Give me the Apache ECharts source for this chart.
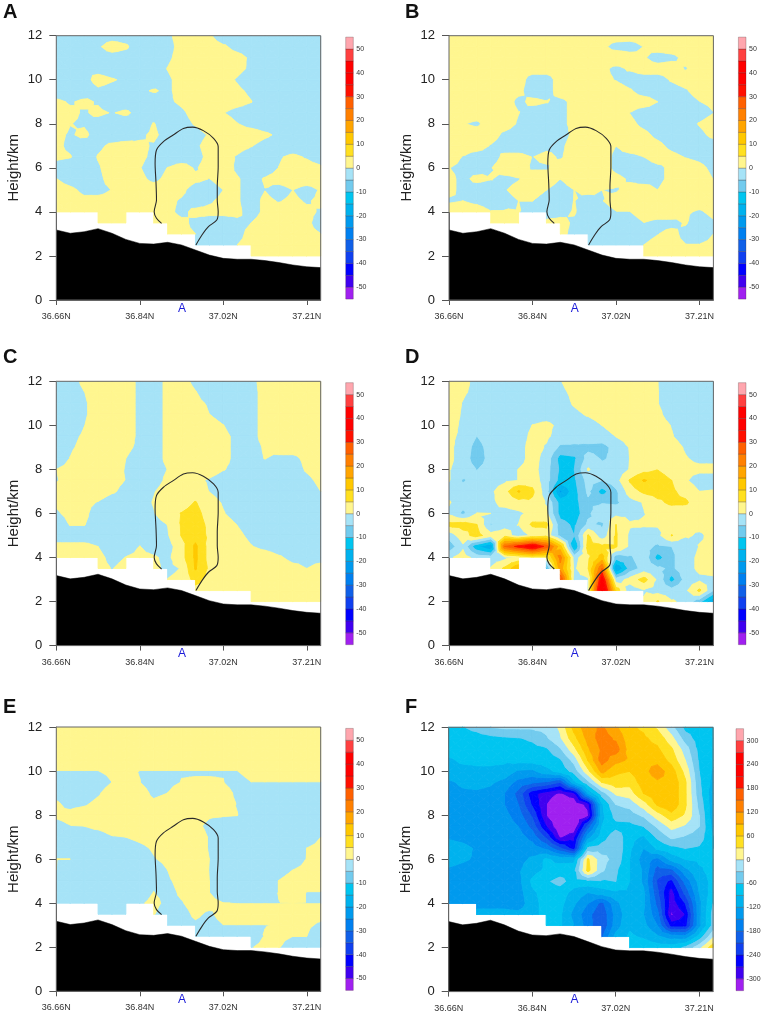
<!DOCTYPE html>
<html>
<head>
<meta charset="utf-8">
<style>html,body{margin:0;padding:0;background:#fff}#chart{width:761px;height:1014px}</style>
<script src="https://cdn.jsdelivr.net/npm/echarts@6/dist/echarts.min.js"></script>
</head>
<body>
<div id="chart"></div>
<script>
const _ = null;

const latitudes = [36.66,36.69,36.72,36.75,36.78,36.81,36.84,36.87,36.90,36.93,36.96,36.99,37.02,37.05,37.08,37.11,37.14,37.17,37.20,37.23];
const heights = [12,11.5,11,10.5,10,9.5,9,8.5,8,7.5,7,6.5,6,5.5,5,4.5,4,3.5,3,2.5,2];
const terrainHeight = [3.18,3.03,3.1,3.24,3.03,2.75,2.57,2.54,2.62,2.5,2.27,2.04,1.89,1.85,1.85,1.79,1.7,1.59,1.51,1.47];

const curveLat = [36.887,36.876,36.871,36.876,36.875,36.873,36.876,36.891,36.912,36.934,36.954,36.977,36.999,37.009,37.009,37.007,37.007,37.009,37.006,36.988,36.974,36.961];
const curveKm = [3.48,3.71,4.01,4.54,5.30,6.20,6.81,7.19,7.49,7.79,7.85,7.69,7.34,6.96,6.05,5.14,4.54,4.01,3.63,3.33,2.95,2.50];

const xTickValues = [36.66,36.84,37.02,37.20];
const xTickLabels = ['36.66N','36.84N','37.02N','37.21N'];

const levelsSmall = [-55,-50,-45,-40,-35,-30,-25,-20,-15,-10,-5,0,5,10,15,20,25,30,35,40,45,50,55];
const labelsSmall = [-50,-40,-30,-20,-10,0,10,20,30,40,50];
const levelsLarge = [-330,-300,-270,-240,-210,-180,-150,-120,-90,-60,-30,0,30,60,90,120,150,180,210,240,270,300,330];
const labelsLarge = [-300,-240,-180,-120,-60,0,60,120,180,240,300];
const bandColors = ['#a020f0','#4000f0','#0000ff','#1040f0','#1060e8','#0080f0','#009aee','#00b2ee','#00c5f0','#72cbee','#a6e3f7',
  '#fff68f','#ffe020','#ffc800','#ffa500','#ff8000','#ff6000','#ff1000','#ff0000','#ff0000','#ff4040','#ffa6ae'];

const panelNames = ['A','B','C','D','E','F'];
const panelLefts = [56.3,449,56.3,449,56.3,448.7];
const panelTops = [35.7,35.7,381.3,381.3,727,727.3];
const letterLefts = [3,405,3,405,3,405];
const letterTops = [12,12,357,357,707,707];
const barLefts = [345.7,738.4,345.7,738.4,345.7,736];

const gridA = [
  [-3,-3,-3,-3,-3,-3,-3,-3,-1,2,3,1,-4,-3,-3,-3,-3,-3,-3,-3],
  [-3,-3,-3,-1,3,1,-4,-3,-2,2,3,3,1,-2,-3,-3,-3,-3,-3,-3],
  [-3,-3,-3,-3,-3,-3,-3,-3,-1,2,3,3,3,2,-1,-3,-3,-3,-3,-3],
  [-3,-3,-0.2,-2,-3,-3,-3,-3,0.2,3,3,3,3,1.5,-1,-3,-3,-3,-3,-3],
  [-3,-3,-2,2,0.5,-1,-3,-3,-1,2,3,3,2,-0.5,-3,-3,-3,-3,-3,-3],
  [-3,-3,-3,-1,-2,-3,-1,0.5,-1,2,3,3,3,1,-1,-3,-3,-3,-3,-3],
  [1,-0.5,1,-0.5,-3,-3,-3,-3,-1,1,3,3,3,2,0.2,-3,-3,-3,-3,-3],
  [2,1,-0.5,1,-0.3,1,-2,-3,-3,-1,2,2,0.2,-2,-3,-3,-3,-3,-3,-3],
  [2,0.1,-0.5,-2,-3,-3,-3,0.3,-3,-2,0.5,3,3,0.2,-2,-3,-3,-3,-3,-3],
  [1,-0.5,1,-2,-3,-3,-1,1,-2,-3,-2,0.5,3,3,3,1,-1,-3,-3,-3],
  [1,-1,-3,-1,1,2,1,-0.5,-3,-3,-1,2,3,2,0.3,-2,-3,-3,-3,-3],
  [1,0.3,-3,0.3,2,2,1,-1,-3,-3,-2,1.5,2,-0.5,-3,-3,-0.5,1,-0.5,-3],
  [-2,-3,-3,-0.5,2,2,0.2,-2,0.1,2,-0.5,2,3,-1,-3,-3,0.1,2,2,1],
  [0.1,-2,-3,-1,1.5,2,1,-1,1,3,1,-0.1,2,0.5,-2,0.5,2,3,3,3],
  [2,1,-1,-1,0.1,2,2,2,2,1,-2,-2,0,0.5,-2,-0.1,-2,0,-2,0.5],
  [2,2,1,1,1,2,2,2,1,-0.5,-2,-0.5,1,0.5,-2,1,-0.3,1,-0.5,1],
  [2,2,2,2,2,2,2,2,1,-1,1,1,1,1,-2,1,2,2,1,-0.5],
  [_,_,_,2,2,2,_,1,2,1,-1,-2,-2,-1,0,2,3,2,1,-2],
  [_,_,_,_,_,_,_,_,2,1,0,-2,-2,-1,1,2,2,2,1,0],
  [_,_,_,_,_,_,_,_,_,_,-1,-2,-2,0,1,2,2,2,2,1],
  [_,_,_,_,_,_,_,_,_,_,_,_,_,_,2,2,2,2,2,2]
];

const gridB = [
  [2,2,2,2,2,2,2,2,2,2,2,2,2,2,2,2,2,2,2,2],
  [2,2,2,2,2,2,2,2,2,2,2,1,-1.5,-2,0.1,2,2,2,2,2],
  [2,2,2,2,2,2,2,2,2,2,2,2,3,2,0.5,-2,-1,1,2,2],
  [2,2,2,2,2,2,2,2,2,2,2,1,-1,0.5,2,2,2,-0.3,2,2],
  [2,2,2,2,2,2,-2,-2,2,2,2,1,-0.2,-2,-2,-2,0.5,2,2,2],
  [2,2,2,2,2,1,-2,-2,2,2,2,2,2,0.5,-2,-2,-2,-0.5,2,2],
  [2,2,2,2,2,-1,1,0.2,-1,1,2,2,2,2,2,0,-2,-2,-0.1,1],
  [2,2,2,2,2,0.1,-2,-2,-1,1,2,2,2,-0.1,-2,-2,-2,-2,-2,-0.1],
  [2,0.2,-0.7,2,2,-0.5,-2,-2,-1,1,2,2,2,1,-1,-2,-2,-2,0.3,2],
  [2,2,2,2,-1,-2,-2,-2,-2,1,2,2,2,2,1,-1,-2,-2,-1,1],
  [2,2,2,-0.3,-2,-2,-2,-1,-1,2,2,2,0,2,2,1,-1,-2,-2,-2],
  [2,-0.2,-2,-2,1,1,-0.1,1,-0.5,2,2,2,-1,-1,0,2,1,-0.2,-1,-2],
  [0.1,-1,-2,-0.2,2,2,-0.5,-0.5,2,2,2,2,-1,-2,-2,-1,1,2,1,-1],
  [1,-1,1,0.2,-1,-0.2,2,2,0,2,2,2,1,-0.5,-2,-1,1,2,2,-0.1],
  [1,-1,-2,-2,-0.2,1,1,0,-1.5,0,1,0,-0.3,1,2,0,2,2,2,2],
  [-0.5,0,-1,-2,-1,0,0,-1,-2,0.1,-1.5,-0.1,1,2,2,2,2,2,2,2],
  [2,2,2,0.2,0.2,0.1,-1,-2,-1,0.3,-2,-1,-0.1,-0.1,2,2,2,0.5,-0.5,1],
  [_,_,_,2,2,2,_,1,1,-0.5,-2,0,-2,-2,-0.1,-1,-1,0.3,-2,-0.5],
  [_,_,_,_,_,_,_,_,1,-1,-2,-2,-2,-2,-1,-0.1,1,-1,-2,0],
  [_,_,_,_,_,_,_,_,_,_,-1,-2,-2,-1,0,1,1,0.1,0.1,1],
  [_,_,_,_,_,_,_,_,_,_,_,_,_,_,2,2,2,2,2,2]
];

const gridC = [
  [-2,-2,1,2,2,2,-1,-2,1,1.5,-1,-2,-2,-2,-1,1.4,2,2,2,2],
  [-2,-2,-0.1,2,2,2,-1,-2,1,2,0.2,-2,-2,-2,-1,1,2,2,2,2],
  [-2,-2,-0.5,1.5,2,2,-1,-2,1,2,1,-0.5,-2,-2,-1,1,2,2,2,2],
  [-2,-2,-0.5,1.5,2,2,-1,-2,1,2,2,0,-2,-2,-1,1,2,2,2,2],
  [-2,-2,-0.1,2,2,2,-1,-2,1,2,2,2,0.1,-2,-1,1,2,2,2,2],
  [-2,-1,0.5,2,2,2,-1,-2,1,2,2,2,1,-1,-1,1,2,2,2,2],
  [-2,-0.5,1,2,2,1,-1,-2,1,2,2,2,1,-1,-1,0.3,2,2,2,2],
  [-2,0.1,2,2,2,0,-2,-2,1,2,2,2,1,-1,-1,0.1,-1,-1,1,2],
  [0,1,2,2,2,-0.3,-2,-2,0.1,2,2,2,0.2,-1,-2,-2,-2,-2,0.5,2],
  [-0.2,1,2,2,1,-0.1,-2,-2,1,2,1,-0.5,-2,-2,-2,-2,-2,-2,-1,1],
  [1,2,2,2,0.5,-1,-2,-0.3,2,2,2,-0.1,-2,-2,-2,-2,-2,-2,-2,0],
  [0.5,2,1,-0.2,-2,-2,-2,0.3,3,3,5.3,2,-0.5,-2,-2,-2,-2,-2,-2,-1],
  [-0.5,1,1,-2,-2,-2,-2,-0.3,3,5.2,6.5,3,0.3,-2,-2,-2,-2,-2,-2,-2],
  [-2,0.2,0.2,-2,-2,-2,-2,-2,0.1,5.5,7,4,2,-0.1,-2,-2,-2,-2,-2,-2],
  [-2,-2,-2,-2,-2,-2,-2,-2,-0.5,5.3,8,4,2,1,-1,-2,-2,-2,-2,-2],
  [1,1,1,0,-2,-2,0.1,-2,-2,3,11,3,2,2,0.2,-1,-2,-2,-2,-2],
  [1,1,1,1,-1,0.1,1,0.5,-1,3,11,3,2,2,2,2,0.5,-1,-1,-1],
  [_,_,_,1,-0.1,1,_,1,-1,0.2,10.5,4,2,2,2,2,2,1,0,1],
  [_,_,_,_,_,_,_,_,0.1,1,7,3,2,2,2,2,2,2,2,2],
  [_,_,_,_,_,_,_,_,_,_,3,2,2,2,2,2,2,2,2,2],
  [_,_,_,_,_,_,_,_,_,_,_,_,_,_,2,2,2,2,2,2]
];

const gridD = [
  [2,1,-1,-2,-2,-2,-2,-2,-0.2,2,2,2,2,2,2,0,-2,-2,-2,-2],
  [2,0.5,-1,-2,-2,-2,-2,-2,-1,1,2,2,2,2,2,0.1,-2,-2,-2,-2],
  [2,-0.2,-2,-2,-2,-2,-2,-2,-2,0.5,2,2,2,2,2,0.1,-2,-2,-2,-2],
  [2,-0.5,-2,-2,-2,-2,-2,-2,-2,-1,0.5,2,2,2,2,1,-2,-2,-2,-2],
  [2,-1,-2,-2,-2,-2,0.1,1,-1,-2,-2,0,2,2,2,2,-0.2,-2,-2,-2],
  [1,-1,-5.1,-2,-2,-2,1,0.8,-2,-3,-2,-2,0.1,2,2,2,0.3,-2,-2,-2],
  [1,-2,-7,-3,-2,-2,2,-0.5,-6,-6,-6.5,-7,-3,0.3,2,2,2,-0.5,-2,-2],
  [1,-2,-8,-3,-2,-2,2,-2,-12,-11,-3,-5.5,-4,0.1,2,2,2,0.3,-1,-1],
  [0.3,-2,-5.2,-3,-2,0.1,2,-3,-11,-10,0.5,-3.5,-3,0.3,3,4.8,2,1,1,1],
  [0.3,-5.5,-3,-2,-1,0.1,3,-3,-12,-11,-3,-5,-2,5.5,10.5,8,5,0.5,-2,-2],
  [-2,-3,-3,-1,3,10.5,6,-3,-21,-12,-4,-12,-6,2.5,6,7,6,3,0,0.3],
  [0.5,-3,-3,-1,1.5,3,4,-0.5,-12,-12,-6,-5.5,-6,-2,0.3,4,6,6,1,1],
  [-1,-6,0.1,0,-2,-1,1.5,1,-12,-13,-6,-1,-1.5,-1.5,-0.2,2,2,1,1,1],
  [6.5,7,5,-5.5,-2,0.1,6,6,-8,-11,-4,-6,5,0.5,0.5,0.5,0.5,0.5,1,1],
  [-3,3,7,2,3,-3,1,3,-7,-10,5.5,-3,5.5,-1,-2,-1.5,5.3,0.5,-0.5,1],
  [-8,-1,-14,-20,25,32,38,28,12,-16,7,6,5.5,-1,-3,-6,-5,-3,0.2,0.5],
  [-1,2.5,-2,-3,-1.5,0.5,3,3,22,-2,4,12,-8,-6,-1.5,-12,-6,-2,1,1],
  [_,_,_,0.5,6,15,_,-11,18,-1,5,25,-21,-8,-3,-4,-6,-2,1,1],
  [_,_,_,_,_,_,_,_,30,-2,-1,38,-3,2,7,-1,-12,-3,-1,-0.5],
  [_,_,_,_,_,_,_,_,_,_,0,45,8,-3,-0.5,-2,-3,-1,6,-5],
  [_,_,_,_,_,_,_,_,_,_,_,_,_,_,0.5,5.5,0.5,-1,-8,-20]
];

const gridE = [
  [2,2,2,2,2,2,2,2,2,2,2,2,2,2,2,2,2,2,2,2],
  [2,2,2,2,2,2,2,2,2,2,2,2,2,2,2,2,2,2,2,2],
  [2,2,2,2,2,2,2,2,2,2,2,2,2,2,2,2,2,2,2,2],
  [2,2,2,2,2,2,2,2,2,2,2,2,2,2,2,2,2,2,2,2],
  [-0.1,-0.1,-0.1,-0.1,1,1,-0.1,-0.1,-0.1,-0.1,-0.1,-0.1,-0.1,-0.1,2,2,2,2,2,2],
  [-2,-2,-2,-2,0,0.05,0.05,-2,-1,0.05,0.1,0.1,0.05,-2,-0.05,-0.05,-0.05,-0.05,-0.05,-0.05],
  [-1,-2,-2,-0.5,2,2,2,-1,0,2,2,2,2,-1,-2,-2,-2,-2,-2,-2],
  [0.5,-1,-0.5,1,2,2,2,1,2,2,2,2,2,-0.2,-2,-2,-2,-2,-2,-2],
  [0.5,1,2,2,2,2,2,2,2,2,2,0.5,0.3,0.1,-2,-2,-2,-2,-2,-2],
  [-1,-0.1,0,1,2,2,2,2,2,2,1,-1,-2,-2,-2,-2,-2,-2,-2,-2],
  [-2,-2,-2,-2,-0.3,0,1,2,2,2,2,-0.3,-2,-2,-2,-2,-2,-2,-2,0],
  [-2,-2,-2,-2,-2,-2,-1,0.5,2,2,2,-0.3,-2,-2,-2,-2,-2,-2,0,1],
  [0.05,0,-2,-2,-2,-2,-2,-0.3,1,2,2,0,-2,-2,-2,-2,-2,-2,0.1,1],
  [0,-2,-2,-2,-2,-2,-2,-2,0,2,2,-0.1,-2,-2,-2,-2,-1,0,1,1],
  [-2,-2,-2,-2,-2,-2,-2,-2,-0.5,1,2,0,-2,-2,-2,-2,0.1,1,1,1],
  [-2,-2,-2,-2,-2,-2,-2,0.05,-1,0.5,1,0,-2,-2,-2,-2,0.1,1,-0.05,-0.05],
  [-2,-2,-2,-2,-2,-2,-0.5,1,-1,-0.2,1,1,0.05,-0.05,-0.05,-0.05,-0.05,0,-0.05,-0.05],
  [_,_,_,-2,-2,-2,_,0.2,-2,-1,0.5,-0.5,1,1,1,1,1,1,1,1],
  [_,_,_,_,_,_,_,_,-2,-1,-0.5,-1,-0.05,-0.05,-0.05,-0.05,0.1,1,0.5,-0.5],
  [_,_,_,_,_,_,_,_,_,_,-2,-2,-2,-2,-1,0.1,0.5,0,0,-2],
  [_,_,_,_,_,_,_,_,_,_,_,_,_,_,-0.1,0.5,0.1,-1,-1,-1]
];

const gridF = [
  [-70,-62,-50,-30,-25,-25,-25,-20,5,70,110,125,95,65,55,25,-20,-70,-75,-75],
  [-75,-75,-75,-70,-65,-62,-55,-35,-5,50,100,135,115,70,65,50,10,-45,-75,-75],
  [-78,-78,-78,-78,-76,-75,-70,-65,-35,20,85,125,135,75,70,65,35,-15,-70,-78],
  [-95,-85,-85,-85,-85,-80,-78,-75,-65,-20,60,135,100,85,85,80,50,0,-65,-80],
  [-100,-100,-95,-95,-100,-125,-128,-100,-80,-50,20,100,65,60,80,105,75,20,-60,-95],
  [-125,-115,-110,-115,-130,-160,-175,-185,-210,-100,-40,30,50,40,75,85,85,35,-55,-100],
  [-130,-125,-125,-130,-150,-190,-260,-285,-305,-280,-120,-45,5,15,60,80,85,35,-50,-110],
  [-130,-130,-130,-132,-150,-180,-245,-300,-330,-330,-290,-95,-30,-20,15,65,85,35,-40,-110],
  [-130,-130,-130,-130,-140,-165,-215,-300,-330,-330,-310,-100,-50,-45,-25,15,50,25,-30,-110],
  [-125,-125,-130,-130,-135,-150,-190,-270,-330,-330,-200,-90,-70,-70,-60,-25,10,-5,-30,-100],
  [-122,-125,-130,-130,-130,-135,-160,-215,-305,-280,-130,-75,-40,-80,-95,-55,-25,-35,-45,-90],
  [-112,-115,-122,-128,-130,-130,-135,-155,-205,-255,-55,-45,-35,-85,-120,-85,-70,-60,-65,-90],
  [-115,-118,-122,-130,-130,-130,-115,-85,-100,-100,35,-20,-40,-90,-135,-160,-110,-90,-85,-85],
  [-122,-125,-128,-132,-135,-125,-100,-85,-75,-70,40,-25,-55,-90,-125,-195,-190,-130,-95,-80],
  [-125,-128,-130,-132,-150,-130,-85,-65,-50,-75,-70,-65,-60,-90,-125,-215,-250,-170,-110,-80],
  [-125,-128,-130,-132,-145,-135,-95,-80,-75,-100,-120,-105,-95,-95,-115,-205,-285,-200,-120,-75],
  [-125,-128,-130,-130,-130,-140,-100,-80,-80,-115,-150,-190,-130,-95,-115,-190,-290,-240,-130,-60],
  [_,_,-110,-110,-110,-110,-100,-80,-85,-130,-170,-205,-140,-100,-120,-170,-305,-270,-130,-50],
  [_,_,_,_,_,_,_,-80,-85,-120,-165,-210,-135,-95,-110,-150,-255,-255,-130,-50],
  [_,_,_,_,_,_,_,_,_,_,_,-185,-110,-85,-95,-115,-135,-140,-80,-5],
  [_,_,_,_,_,_,_,_,_,_,_,_,_,-70,-70,-75,-75,-55,-10,50]
];

const grids = [gridA, gridB, gridC, gridD, gridE, gridF];

// clip a polygon [lat, km, value] to value >= limit (sign=1) or <= limit (sign=-1)
function clipPoly(poly, limit, sign) {
  const out = [];
  for (let i = 0; i < poly.length; i++) {
    const p = poly[i], q = poly[(i + 1) % poly.length];
    const pIn = sign * (p[2] - limit) >= 0, qIn = sign * (q[2] - limit) >= 0;
    if (pIn) out.push(p);
    if (pIn !== qIn) {
      const t = (limit - p[2]) / (q[2] - p[2]);
      out.push([p[0] + t * (q[0] - p[0]), p[1] + t * (q[1] - p[1]), limit]);
    }
  }
  return out;
}

function contourPolys(grid, levels) {
  const polys = [];
  const lo = levels[0], hi = levels[levels.length - 1];
  const pt = (r, c) => [latitudes[c], heights[r], Math.max(lo, Math.min(hi, grid[r][c]))];
  for (let r = 0; r < grid.length - 1; r++) {
    for (let c = 0; c < latitudes.length - 1; c++) {
      if (grid[r][c] === null || grid[r][c + 1] === null || grid[r + 1][c] === null || grid[r + 1][c + 1] === null) continue;
      const a = pt(r, c), b = pt(r, c + 1), d = pt(r + 1, c + 1), e = pt(r + 1, c);
      // centre of the cell takes the mean of its corners
      const mid = [(a[0] + b[0]) / 2, (a[1] + e[1]) / 2, (a[2] + b[2] + d[2] + e[2]) / 4];
      [[a, b, mid], [b, d, mid], [d, e, mid], [e, a, mid]].forEach(tri => {
        for (let k = 0; k < bandColors.length; k++) {
          const clipped = clipPoly(clipPoly(tri, levels[k], 1), levels[k + 1], -1);
          if (clipped.length >= 3) polys.push({ band: k, points: clipped });
        }
      });
    }
  }
  polys.sort((x, y) => x.band - y.band);
  return polys;
}

const xAxes = [], yAxes = [], gridsOpt = [], series = [], graphics = [];

panelNames.forEach((name, p) => {
  const left = panelLefts[p], top = panelTops[p];
  const levels = p === 5 ? levelsLarge : levelsSmall;
  const labels = p === 5 ? labelsLarge : labelsSmall;
  const polys = contourPolys(grids[p], levels);
  const axisIdx = xAxes.length;

  gridsOpt.push({ left: left, top: top, width: 264.4, height: 264.3, outerBoundsMode: 'none' });
  xAxes.push({
    type: 'value', gridIndex: axisIdx, min: 36.66, max: 37.23, splitLine: { show: false },
    axisLine: { lineStyle: { color: '#666' } },
    axisTick: { length: 5, lineStyle: { color: '#555' }, customValues: xTickValues },
    axisLabel: {
      customValues: xTickValues, margin: 12, fontSize: 9, color: '#333', fontFamily: 'Liberation Sans',
      formatter: v => xTickLabels[xTickValues.indexOf(v)]
    }
  });
  yAxes.push({
    type: 'value', gridIndex: axisIdx, min: 0, max: 12, interval: 2, splitLine: { show: false },
    name: 'Height/km', nameLocation: 'middle', nameGap: 35, nameMoveOverlap: false,
    nameTextStyle: { fontSize: 15, color: '#222', fontFamily: 'Liberation Sans' },
    axisLine: { lineStyle: { color: '#666' } },
    axisTick: { length: 7, lineStyle: { color: '#555' } },
    axisLabel: { margin: 14, fontSize: 13, color: '#222', fontFamily: 'Liberation Sans' }
  });

  series.push({
    type: 'custom', xAxisIndex: axisIdx, yAxisIndex: axisIdx, clip: true, silent: true, z: 1,
    encode: { x: 0, y: 1 },
    data: polys.map((poly, i) => [poly.points[0][0], poly.points[0][1], i]),
    renderItem: (params, api) => {
      const poly = polys[api.value(2)];
      const color = bandColors[poly.band];
      return {
        type: 'polygon',
        shape: { points: poly.points.map(pnt => api.coord([pnt[0], pnt[1]])) },
        style: { fill: color, stroke: color, lineWidth: 0.9 }
      };
    }
  });
  series.push({
    type: 'line', xAxisIndex: axisIdx, yAxisIndex: axisIdx, symbol: 'none', silent: true, z: 2,
    data: latitudes.map((lat, i) => [lat, terrainHeight[i]]),
    lineStyle: { color: '#000', width: 0.5 }, areaStyle: { color: '#000', opacity: 1 }
  });
  if (name !== 'F') {
    series.push({
      type: 'line', xAxisIndex: axisIdx, yAxisIndex: axisIdx, symbol: 'none', silent: true, z: 3, smooth: 0.3,
      data: curveLat.map((lat, i) => [lat, curveKm[i]]),
      lineStyle: { color: '#2a2a2a', width: 1.1 }
    });
  }
  series.push({
    type: 'custom', xAxisIndex: axisIdx, yAxisIndex: axisIdx, silent: true, z: 4, clip: false,
    encode: { x: 0, y: 1 },
    data: [[36.66, 0, 37.23, 12]],
    renderItem: (params, api) => {
      const a = api.coord([api.value(0), api.value(1)]), b = api.coord([api.value(2), api.value(3)]);
      return {
        type: 'rect', shape: { x: a[0], y: b[1], width: b[0] - a[0], height: a[1] - b[1] },
        style: { fill: 'none', stroke: '#666', lineWidth: 1 }
      };
    }
  });

  // colour bar
  const barIdx = xAxes.length;
  gridsOpt.push({ left: barLefts[p], top: top + 1.4, width: 7.6, height: 262, outerBoundsMode: 'none' });
  xAxes.push({ type: 'value', gridIndex: barIdx, min: 0, max: 1, show: false });
  yAxes.push({
    type: 'value', gridIndex: barIdx, position: 'right', min: levels[0], max: levels[levels.length - 1],
    splitLine: { show: false }, axisLine: { show: false }, axisTick: { show: false },
    axisLabel: { customValues: labels, margin: 3, fontSize: 7, color: '#333', fontFamily: 'Liberation Sans' }
  });
  series.push({
    type: 'custom', xAxisIndex: barIdx, yAxisIndex: barIdx, silent: true, clip: false,
    encode: { x: 0, y: 1 },
    data: bandColors.map((c, i) => [0, levels[i], 1, levels[i + 1], i]),
    renderItem: (params, api) => {
      const a = api.coord([api.value(0), api.value(1)]), b = api.coord([api.value(2), api.value(3)]);
      return {
        type: 'rect', shape: { x: a[0], y: b[1], width: b[0] - a[0], height: a[1] - b[1] },
        style: { fill: bandColors[api.value(4)], stroke: 'rgba(60,40,40,0.45)', lineWidth: 0.6 }
      };
    }
  });

  graphics.push({
    type: 'text', left: letterLefts[p], top: letterTops[p] - 10,
    style: { text: name, font: 'bold 20px "Liberation Sans"', fill: '#111' }
  });
  graphics.push({
    type: 'text', left: left + 125.7 - 4, top: top + 264.3 + 2.5,
    style: { text: 'A', font: '12px "Liberation Sans"', fill: '#1a1ad8' }
  });
});

const chart = echarts.init(document.getElementById('chart'), null, { renderer: 'canvas' });
chart.setOption({
  animation: false,
  backgroundColor: '#fff',
  grid: gridsOpt,
  xAxis: xAxes,
  yAxis: yAxes,
  series: series,
  graphic: graphics
});
</script>
</body>
</html>
